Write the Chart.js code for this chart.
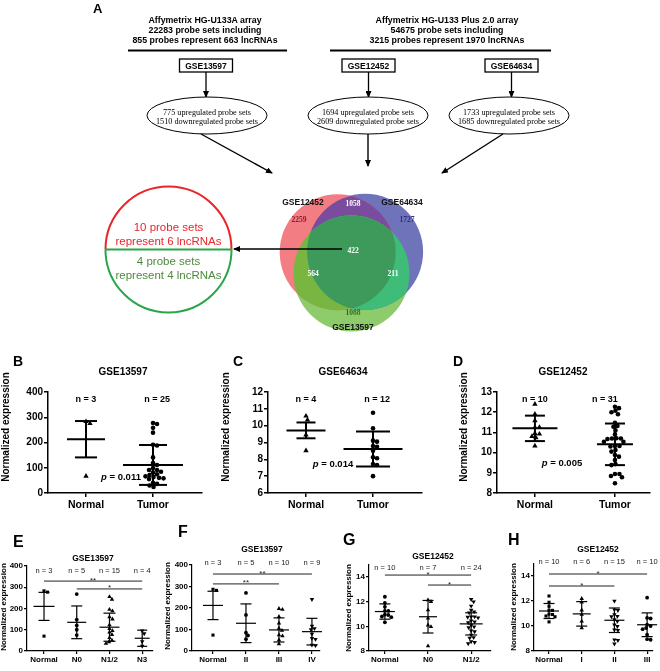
<!DOCTYPE html>
<html>
<head>
<meta charset="utf-8">
<script src="https://cdn.jsdelivr.net/npm/chart.js@4.4.1/dist/chart.umd.min.js"></script>
<style>
  body { margin: 0; background: #fff; }
  #fig { position: relative; width: 660px; height: 671px; overflow: hidden; background: #fff; }
  canvas.p { position: absolute; }
  #flow { position: absolute; left: 0; top: 0; }
</style>
</head>
<body>
<div id="fig">
  <canvas id="venn" class="p"></canvas>
  <svg id="flow" width="660" height="345"></svg>
  <canvas id="cB" class="p"></canvas>
  <canvas id="cC" class="p"></canvas>
  <canvas id="cD" class="p"></canvas>
  <canvas id="cE" class="p"></canvas>
  <canvas id="cF" class="p"></canvas>
  <canvas id="cG" class="p"></canvas>
  <canvas id="cH" class="p"></canvas>
</div>
<script>
// ---- panel A data ----
const headerA = ['Affymetrix HG-U133A array', '22283 probe sets including', '855 probes represent 663 lncRNAs'];
const headerB = ['Affymetrix HG-U133 Plus 2.0 array', '54675 probe sets including', '3215 probes represent 1970 lncRNAs'];
const gseIds = ['GSE13597', 'GSE12452', 'GSE64634'];
const upSets = [775, 1694, 1733];
const downSets = [1510, 2609, 1685];
const vennNames = ['GSE12452', 'GSE64634', 'GSE13597'];
// only A, only B, only C, AB, AC, BC, ABC
const vennCounts = [2259, 1727, 1088, 1058, 564, 211, 422];
const overlapText = ['10 probe sets', 'represent 6 lncRNAs', '4 probe sets', 'represent 4 lncRNAs'];

// ---- panels B-D ----
const bdCats = ['Normal', 'Tumor'];
const b_yTicks = [0, 100, 200, 300, 400];
const b_normal = [283, 275, 67];
const b_tumor = [273, 277, 258, 239, 188, 191, 141, 111, 119, 99, 91, 91, 84, 81, 71, 74, 63, 66, 60, 55, 58, 40, 36, 24, 30];
const b_mean = [213, 111];
const b_err = [72, 79];
const b_n = [3, 25];
const b_p = '0.011';

const c_yTicks = [6, 7, 8, 9, 10, 11, 12];
const c_normal = [10.57, 10.34, 9.45, 8.52];
const c_tumor = [10.77, 9.84, 9.11, 9.05, 8.79, 8.75, 8.51, 8.06, 8.12, 7.72, 7.66, 7.0];
const c_mean = [9.72, 8.61];
const c_err = [0.47, 1.04];
const c_n = [4, 12];
const c_p = '0.014';

const d_yTicks = [8, 9, 10, 11, 12, 13];
const d_normal = [12.4, 11.9, 11.58, 11.25, 11.25, 10.95, 10.92, 10.74, 10.8, 10.33];
const d_tumor = [12.27, 12.2, 12.07, 12.0, 11.9, 11.48, 11.28, 11.32, 10.71, 10.67, 10.7, 10.7, 10.54, 10.54, 10.33, 10.33,
  10.3, 10.13, 10.05, 9.88, 9.8, 9.63, 9.43, 9.38, 8.94, 8.84, 8.94, 8.78, 8.48, 10.9, 11.1];
const d_mean = [11.2, 10.41];
const d_err = [0.63, 1.03];
const d_n = [10, 31];
const d_p = '0.005';

// ---- panels E-H ----
const e_cats = ['Normal', 'N0', 'N1/2', 'N3'];
const e_yTicks = [0, 100, 200, 300, 400];
const e_groups = [
  [283, 277, 70],
  [268, 148, 120, 100, 75],
  [255, 243, 195, 188, 160, 150, 122, 105, 95, 88, 77, 62, 50, 42, 35],
  [95, 82, 44, 23]
];
const e_mean = [210, 135, 112, 60];
const e_err = [66, 77, 66, 38];
const e_n = [3, 5, 15, 4];
const e_sig = [[0, 3, '**', 329], [1, 3, '*', 292]];

const f_cats = ['Normal', 'II', 'III', 'IV'];
const f_yTicks = [0, 100, 200, 300, 400];
const f_groups = [
  [287, 282, 74],
  [270, 168, 85, 72, 55],
  [197, 193, 160, 129, 105, 95, 74, 70, 51, 33],
  [240, 116, 105, 100, 79, 59, 55, 28, 26]
];
const f_mean = [212, 129, 98, 90];
const f_err = [66, 90, 56, 62];
const f_n = [3, 5, 10, 9];
const f_sig = [[0, 3, '**', 358], [0, 2, '**', 312]];

const g_cats = ['Normal', 'N0', 'N1/2'];
const g_yTicks = [8, 10, 12, 14];
const g_groups = [
  [12.4, 11.9, 11.58, 11.25, 11.25, 10.95, 10.92, 10.74, 10.8, 10.33],
  [12.14, 12.0, 11.32, 10.65, 10.1, 9.97, 8.4],
  [12.19, 12.0, 11.65, 11.32, 11.19, 11.1, 10.78, 10.75, 10.7, 10.78, 10.46, 10.38, 10.3, 10.1, 9.97, 9.9,
   9.65, 9.57, 9.3, 9.1, 9.05, 8.76, 8.6, 8.7]
];
const g_mean = [11.2, 10.78, 10.2];
const g_err = [0.62, 1.32, 0.9];
const g_n = [10, 7, 24];
const g_sig = [[0, 2, '*', 14.16], [1, 2, '*', 13.35]];

const h_cats = ['Normal', 'I', 'II', 'III'];
const h_yTicks = [8, 10, 12, 14];
const h_groups = [
  [12.4, 11.9, 11.58, 11.25, 11.25, 10.95, 10.92, 10.74, 10.8, 10.33],
  [12.19, 11.9, 11.27, 10.92, 10.38, 9.84],
  [12.0, 11.3, 11.25, 10.92, 10.78, 10.75, 10.51, 10.38, 10.1, 9.97, 9.7, 9.65, 8.9, 8.85, 8.57],
  [12.27, 10.65, 10.6, 10.1, 10.0, 9.84, 9.75, 9.3, 8.95, 8.9]
];
const h_mean = [11.2, 10.97, 10.46, 10.1];
const h_err = [0.6, 0.98, 0.98, 0.95];
const h_n = [10, 6, 15, 10];
const h_sig = [[0, 3, '*', 14.16], [0, 2, '*', 13.2]];

const FONT = 'Arial, "Liberation Sans", sans-serif';
const SERIF = '"Liberation Serif", "Times New Roman", serif';
Chart.defaults.font.family = FONT;
Chart.defaults.color = '#000';

// ---------- flow diagram (panel A) ----------
(function drawFlow() {
  const s = [];
  s.push('<defs><marker id="ah" markerWidth="7" markerHeight="6" refX="6" refY="3" orient="auto" markerUnits="userSpaceOnUse"><path d="M0,0 L7,3 L0,6 z" fill="#000"/></marker></defs>');
  s.push(`<text x="93" y="12.5" font-family='${FONT}' font-weight="bold" font-size="13">A</text>`);
  const hdr = (lines, cx) => lines.forEach((t, i) =>
    s.push(`<text x="${cx}" y="${22.5 + i * 10}" text-anchor="middle" font-family='${FONT}' font-weight="bold" font-size="8.8">${t}</text>`));
  hdr(headerA, 205);
  hdr(headerB, 447);
  s.push('<line x1="128" y1="50.5" x2="287" y2="50.5" stroke="#000" stroke-width="2"/>');
  s.push('<line x1="330" y1="50.5" x2="551" y2="50.5" stroke="#000" stroke-width="2"/>');
  const boxX = [206, 368.5, 511.5];
  const ellX = [207, 368, 509];
  gseIds.forEach((g, i) => {
    s.push(`<rect x="${boxX[i] - 26.5}" y="59" width="53" height="13" fill="#fff" stroke="#000" stroke-width="1.3"/>`);
    s.push(`<text x="${boxX[i]}" y="68.5" text-anchor="middle" font-family='${FONT}' font-weight="bold" font-size="8.5">${g}</text>`);
    s.push(`<line x1="${boxX[i]}" y1="72" x2="${boxX[i]}" y2="97" stroke="#000" stroke-width="1.3" marker-end="url(#ah)"/>`);
    s.push(`<ellipse cx="${ellX[i]}" cy="115.5" rx="60" ry="18.5" fill="#fff" stroke="#000" stroke-width="1"/>`);
    s.push(`<text x="${ellX[i]}" y="114.5" text-anchor="middle" font-family='${SERIF}' font-size="8.2" fill="#000">${upSets[i]} upregulated probe sets</text>`);
    s.push(`<text x="${ellX[i]}" y="123.5" text-anchor="middle" font-family='${SERIF}' font-size="8.2" fill="#000">${downSets[i]} downregulated probe sets</text>`);
  });
  s.push('<line x1="201" y1="134" x2="272" y2="173" stroke="#000" stroke-width="1.4" marker-end="url(#ah)"/>');
  s.push('<line x1="368" y1="134" x2="368" y2="166" stroke="#000" stroke-width="1.4" marker-end="url(#ah)"/>');
  s.push('<line x1="503" y1="134" x2="442" y2="173" stroke="#000" stroke-width="1.4" marker-end="url(#ah)"/>');
  // overlap result circle
  const cx = 168.5, cy = 249.5, r = 63;
  s.push(`<path d="M${cx - r},${cy} A${r},${r} 0 0 1 ${cx + r},${cy}" fill="none" stroke="#e8262b" stroke-width="2"/>`);
  s.push(`<path d="M${cx - r},${cy} A${r},${r} 0 0 0 ${cx + r},${cy}" fill="none" stroke="#2aa64a" stroke-width="2"/>`);
  s.push(`<line x1="${cx - r}" y1="${cy}" x2="${cx + r}" y2="${cy}" stroke="#2aa64a" stroke-width="2"/>`);
  const oy = [231, 244.5, 265, 278.5];
  const oc = ['#e8262b', '#e8262b', '#4d8a3c', '#4d8a3c'];
  overlapText.forEach((t, i) =>
    s.push(`<text x="${cx}" y="${oy[i]}" text-anchor="middle" font-family='${FONT}' font-size="11.5" fill="${oc[i]}">${t}</text>`));
  s.push('<line x1="342" y1="249" x2="234" y2="249" stroke="#000" stroke-width="1.5" marker-end="url(#ah)"/>');
  document.getElementById('flow').innerHTML = s.join('');
})();

// ---------- Venn ----------
(function drawVenn() {
  const box = [240, 170, 460, 355];
  const cv = document.getElementById('venn');
  cv.width = box[2] - box[0]; cv.height = box[3] - box[1];
  cv.style.left = box[0] + 'px'; cv.style.top = box[1] + 'px';
  const centres = [[84, 65], [142, 64], [113, 122]];
  const R = 58;
  const base = ['#f27d83', '#6f73ba', '#8ecb6a'];
  const pairCol = { ab: '#7a4c9d', ac: '#79b641', bc: '#3fbd78', abc: '#3e9a5b' };
  const labelPos = [[63, 33], [162, 33], [113, 158]];
  const countPos = [[59, 50], [167, 50], [113, 143], [113, 34], [73, 104], [153, 104], [113, 81]];
  const countCol = ['#8b1c2c', '#2b2f8a', '#2f6e2a', '#fff', '#fff', '#fff', '#fff'];

  const vennPlugin = {
    id: 'venn',
    afterDatasetsDraw(chart) {
      const ctx = chart.ctx;
      const pts = [0, 1, 2].map(i => chart.getDatasetMeta(i).data[0]);
      const circ = p => { ctx.beginPath(); ctx.arc(p.x, p.y, R, 0, Math.PI * 2); };
      const inter = (clips, fillP, col) => {
        ctx.save();
        clips.forEach(p => { circ(p); ctx.clip(); });
        circ(fillP); ctx.fillStyle = col; ctx.fill();
        ctx.restore();
      };
      inter([pts[0]], pts[1], pairCol.ab);
      inter([pts[0]], pts[2], pairCol.ac);
      inter([pts[1]], pts[2], pairCol.bc);
      inter([pts[0], pts[1]], pts[2], pairCol.abc);
      ctx.save();
      ctx.textAlign = 'center'; ctx.textBaseline = 'middle';
      ctx.font = 'bold 8.5px ' + FONT; ctx.fillStyle = '#111';
      vennNames.forEach((n, i) => ctx.fillText(n, labelPos[i][0], labelPos[i][1]));
      ctx.font = 'bold 7.5px ' + SERIF;
      vennCounts.forEach((v, i) => { ctx.fillStyle = countCol[i]; ctx.fillText(String(v), countPos[i][0], countPos[i][1]); });
      ctx.restore();
    }
  };

  new Chart(cv, {
    type: 'bubble',
    data: {
      datasets: centres.map((c, i) => ({
        data: [{ x: c[0], y: c[1], r: R }],
        backgroundColor: base[i], borderWidth: 0, clip: false
      }))
    },
    options: {
      responsive: false, animation: false, events: [],
      layout: { padding: 0 },
      plugins: { legend: { display: false }, tooltip: { enabled: false } },
      scales: {
        x: { display: false, min: 0, max: box[2] - box[0] },
        y: { display: false, min: 0, max: box[3] - box[1], reverse: true }
      }
    },
    plugins: [vennPlugin]
  });
})();

// ---------- scatter panels ----------
function swarm(vals, cx, r, pxX, pxY) {
  const placed = [];
  const out = new Array(vals.length);
  const order = vals.map((v, i) => i).sort((a, b) => vals[b] - vals[a]);
  const d = 2 * r * 0.88;
  order.forEach(i => {
    const y = vals[i] * pxY;
    let best = 0;
    for (let k = 0; k < 400; k++) {
      const off = (k % 2 ? 1 : -1) * Math.ceil(k / 2) * 0.5;
      if (placed.every(p => Math.hypot(p[0] - off, p[1] - y) >= d)) { best = off; break; }
    }
    placed.push([best, y]);
    out[i] = { x: cx + best / pxX, y: vals[i] };
  });
  return out;
}

const big = { xFont: 10.5, yFont: 10, tl: 4, axW: 1.5, lw: 2, r: 2.3, letterSize: 14, titleSize: 10, nFont: 'bold 9px ', ytSize: 10, xPad: 2, sigLw: 1 };
const small = { xFont: 8, yFont: 8, tl: 3, axW: 1.2, lw: 1.2, r: 1.9, letterSize: 16, titleSize: 8.5, nFont: '7.5px ', ytSize: 8, xPad: 1, sigLw: 1 };

function makePanel(c) {
  const st = c.st;
  const cv = document.getElementById(c.id);
  const [bl, bt, br, bb] = c.box;
  const [pl, pt, pr, pb] = c.plot;
  cv.width = br - bl; cv.height = bb - bt;
  cv.style.left = bl + 'px'; cv.style.top = bt + 'px';
  const pxX = (pr - pl) / (c.x[1] - c.x[0]);
  const pxY = (pb - pt) / (c.y[1] - c.y[0]);

  const datasets = c.groups.map((vals, i) => {
    const m = c.marks[i];
    const rad = m === 'circle' ? st.r : m === 'rect' ? st.r * 1.15 : st.r * 1.35;
    return {
      data: swarm(vals, i, st.r, pxX, pxY),
      pointStyle: m === 'down' ? 'triangle' : m,
      pointRotation: m === 'down' ? 180 : 0,
      pointRadius: rad,
      pointBackgroundColor: '#000', pointBorderColor: '#000', pointBorderWidth: 0,
      clip: false
    };
  });

  const txt = (ctx, t, x, y, font, align, base) => {
    ctx.font = font; ctx.textAlign = align || 'center'; ctx.textBaseline = base || 'middle';
    ctx.fillText(t, x - bl, y - bt);
  };

  const deco = {
    id: 'deco',
    afterDraw(chart) {
      const ctx = chart.ctx, xs = chart.scales.x, ys = chart.scales.y;
      ctx.save();
      ctx.fillStyle = '#000'; ctx.strokeStyle = '#000';
      txt(ctx, c.letter, c.letterPos[0], c.letterPos[1], 'bold ' + st.letterSize + 'px ' + FONT, 'left', 'alphabetic');
      txt(ctx, c.title, c.titlePos[0], c.titlePos[1], 'bold ' + st.titleSize + 'px ' + FONT);
      // y title
      ctx.save();
      ctx.translate(c.ytPos[0] - bl, c.ytPos[1] - bt);
      ctx.rotate(-Math.PI / 2);
      ctx.font = 'bold ' + st.ytSize + 'px ' + FONT; ctx.textAlign = 'center'; ctx.textBaseline = 'middle';
      ctx.fillText('Normalized expression', 0, 0);
      ctx.restore();
      // n labels
      ctx.fillStyle = c.nColor || '#000';
      c.n.forEach((n, i) => {
        const dx = c.nDx ? c.nDx[i] : 0;
        txt(ctx, 'n = ' + n, xs.getPixelForValue(i) + bl + dx, c.nY, st.nFont + FONT);
      });
      ctx.fillStyle = '#000';
      // p value
      if (c.p) {
        ctx.textBaseline = 'middle';
        const f1 = 'italic bold 9.5px ' + FONT, f2 = 'bold 9.5px ' + FONT;
        ctx.font = f1; const w1 = ctx.measureText('p').width;
        ctx.font = f2; const w2 = ctx.measureText(' = ' + c.p).width;
        const x0 = c.pPos[0] - bl - (w1 + w2) / 2, y0 = c.pPos[1] - bt;
        ctx.textAlign = 'left';
        ctx.font = f1; ctx.fillText('p', x0, y0);
        ctx.font = f2; ctx.fillText(' = ' + c.p, x0 + w1, y0);
      }
      // significance bars
      if (c.sig) {
        ctx.strokeStyle = '#222'; ctx.lineWidth = st.sigLw;
        c.sig.forEach(([a, b, star, v]) => {
          const xa = xs.getPixelForValue(a), xb = xs.getPixelForValue(b), y = ys.getPixelForValue(v);
          ctx.beginPath(); ctx.moveTo(xa, y); ctx.lineTo(xb, y); ctx.stroke();
          ctx.font = '8px ' + FONT; ctx.textAlign = 'center'; ctx.textBaseline = 'alphabetic';
          ctx.fillStyle = '#222';
          ctx.fillText(star, (xa + xb) / 2, y + 1.5);
        });
      }
      // mean +/- error bars
      ctx.strokeStyle = '#000'; ctx.lineWidth = st.lw;
      const seg = (x1, y1, x2, y2) => { ctx.beginPath(); ctx.moveTo(x1, y1); ctx.lineTo(x2, y2); ctx.stroke(); };
      c.means.forEach((m, i) => {
        const x = xs.getPixelForValue(i);
        const ym = ys.getPixelForValue(m);
        const yu = ys.getPixelForValue(m + c.errs[i]);
        const yl = ys.getPixelForValue(m - c.errs[i]);
        const mw = c.meanW[i] / 2, cw = c.capW[i] / 2;
        seg(x - mw, ym, x + mw, ym);
        seg(x, yu, x, yl);
        seg(x - cw, yu, x + cw, yu);
        seg(x - cw, yl, x + cw, yl);
      });
      ctx.restore();
    }
  };

  new Chart(cv, {
    type: 'scatter',
    data: { datasets },
    options: {
      responsive: false, animation: false, events: [],
      layout: { padding: { left: 0, top: pt - bt, right: br - pr, bottom: 0 } },
      plugins: { legend: { display: false }, tooltip: { enabled: false } },
      scales: {
        x: {
          type: 'linear', min: c.x[0], max: c.x[1],
          afterFit: s => { s.height = bb - pb; },
          afterBuildTicks: s => { s.ticks = c.cats.map((_, i) => ({ value: i })); },
          ticks: { callback: (v, i) => c.cats[i], font: { size: st.xFont, weight: 'bold' }, color: '#000', padding: st.xPad, maxRotation: 0, autoSkip: false },
          grid: { drawOnChartArea: false, tickLength: st.tl, color: '#000', lineWidth: st.axW },
          border: { color: '#000', width: st.axW }
        },
        y: {
          type: 'linear', min: c.y[0], max: c.y[1],
          afterFit: s => { s.width = pl - bl; },
          afterBuildTicks: s => { s.ticks = c.yTicks.map(v => ({ value: v })); },
          ticks: { font: { size: st.yFont, weight: 'bold' }, color: '#000', padding: 1 },
          grid: { drawOnChartArea: false, tickLength: st.tl, color: '#000', lineWidth: st.axW },
          border: { color: '#000', width: st.axW }
        }
      }
    },
    plugins: [deco]
  });
}

makePanel({ id: 'cB', st: big, box: [0, 350, 220, 515], plot: [48, 392, 202, 493],
  x: [-0.567, 1.731], y: [0, 400], yTicks: b_yTicks, cats: bdCats,
  groups: [b_normal, b_tumor], marks: ['triangle', 'circle'], means: b_mean, errs: b_err,
  meanW: [38, 60], capW: [22, 28], n: b_n, nY: 400, nDx: [0, 4], p: b_p, pPos: [121, 477],
  letter: 'B', letterPos: [13, 366], title: 'GSE13597', titlePos: [123, 372], ytPos: [6, 427] });

makePanel({ id: 'cC', st: big, box: [220, 350, 440, 515], plot: [268, 392, 422, 493],
  x: [-0.567, 1.731], y: [6, 12], yTicks: c_yTicks, cats: bdCats,
  groups: [c_normal, c_tumor], marks: ['triangle', 'circle'], means: c_mean, errs: c_err,
  meanW: [39, 59], capW: [19, 34], n: c_n, nY: 400, nDx: [0, 4], p: c_p, pPos: [333, 464],
  letter: 'C', letterPos: [233, 366], title: 'GSE64634', titlePos: [343, 372], ytPos: [226, 427] });

makePanel({ id: 'cD', st: big, box: [440, 350, 660, 515], plot: [497, 392, 650, 493],
  x: [-0.474, 1.438], y: [8, 13], yTicks: d_yTicks, cats: bdCats,
  groups: [d_normal, d_tumor], marks: ['triangle', 'circle'], means: d_mean, errs: d_err,
  meanW: [45, 36], capW: [20, 20], n: d_n, nY: 400, nDx: [0, -10], p: d_p, pPos: [562, 463],
  letter: 'D', letterPos: [453, 366], title: 'GSE12452', titlePos: [563, 372], ytPos: [464, 427] });

makePanel({ id: 'cE', st: small, box: [0, 530, 165, 671], plot: [27, 566, 153, 651],
  x: [-0.52, 3.33], y: [0, 400], yTicks: e_yTicks, cats: e_cats,
  groups: e_groups, marks: ['rect', 'circle', 'triangle', 'down'], means: e_mean, errs: e_err,
  meanW: [21, 19, 20, 15], capW: [11, 11, 12, 10], n: e_n, nY: 571, nColor: '#222', sig: e_sig,
  letter: 'E', letterPos: [13, 547], title: 'GSE13597', titlePos: [93, 559], ytPos: [4, 607] });

makePanel({ id: 'cF', st: small, box: [165, 515, 330, 671], plot: [192, 565, 320, 651],
  x: [-0.636, 3.244], y: [0, 400], yTicks: f_yTicks, cats: f_cats,
  groups: f_groups, marks: ['rect', 'circle', 'triangle', 'down'], means: f_mean, errs: f_err,
  meanW: [20, 20, 20, 20], capW: [11, 11, 11, 11], n: f_n, nY: 563, nColor: '#222', sig: f_sig,
  letter: 'F', letterPos: [178, 537], title: 'GSE13597', titlePos: [262, 550], ytPos: [168, 606] });

makePanel({ id: 'cG', st: small, box: [330, 530, 495, 671], plot: [369, 564.7, 492, 651],
  x: [-0.368, 2.46], y: [8, 15], yTicks: g_yTicks, cats: g_cats,
  groups: g_groups, marks: ['circle', 'triangle', 'down'], means: g_mean, errs: g_err,
  meanW: [20, 18, 23], capW: [11, 11, 12], n: g_n, nY: 568, nColor: '#222', sig: g_sig,
  letter: 'G', letterPos: [343, 545], title: 'GSE12452', titlePos: [433, 557], ytPos: [349, 608] });

makePanel({ id: 'cH', st: small, box: [495, 530, 660, 671], plot: [534, 563.5, 653, 651],
  x: [-0.459, 3.18], y: [8, 15], yTicks: h_yTicks, cats: h_cats,
  groups: h_groups, marks: ['rect', 'triangle', 'down', 'circle'], means: h_mean, errs: h_err,
  meanW: [20, 18, 20, 20], capW: [11, 11, 11, 11], n: h_n, nY: 562, nColor: '#222', sig: h_sig,
  letter: 'H', letterPos: [508, 545], title: 'GSE12452', titlePos: [598, 550], ytPos: [514, 607] });
</script>
</body>
</html>
